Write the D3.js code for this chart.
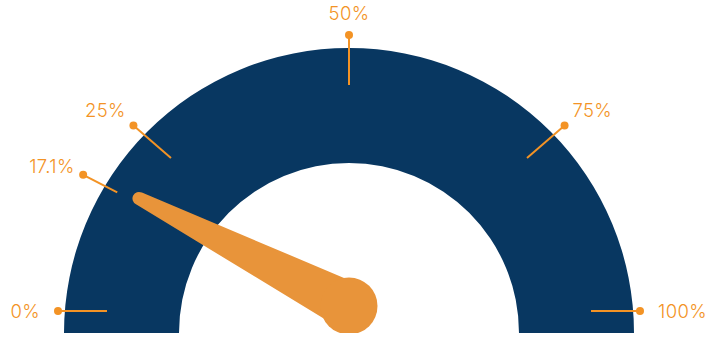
<!DOCTYPE html>
<html>
<head>
<meta charset="utf-8">
<script src="https://cdn.jsdelivr.net/npm/d3@7"></script>
<style>
  html, body { margin: 0; padding: 0; background: #fff; }
  svg { display: block; }
</style>
</head>
<body>
<svg id="chart" width="706" height="337"></svg>
<script>
// Gauge reading and scale ticks
const gaugeValue = 17.1;
const gaugeLabel = "17.1%";
const tickValues = [0, 25, 50, 75, 100];
const tickLabels = ["0%", "25%", "50%", "75%", "100%"];

const W = 706, H = 337;
const cx = 349, cy = 333;          // centre of the navy band
const hubY = cy - 22;              // origin of the ticks
const pivotY = cy - 27;            // needle hub
const band = { inner: 170, outer: 285 };

const navy = "#083761";
const orange = "#f39325";
const needleOrange = "#e8943a";

const svg = d3.select("#chart");

// clip everything at the flat base of the gauge
svg.append("defs").append("clipPath").attr("id", "base")
  .append("rect").attr("x", 0).attr("y", 0).attr("width", W).attr("height", cy);

const g = svg.append("g").attr("clip-path", "url(#base)");

// band: value → d3.arc angle (0 at 12 o'clock, clockwise)
const arcAngle = d3.scaleLinear().domain([0, 100]).range([-Math.PI / 2, Math.PI / 2]);

g.append("path")
  .attr("transform", `translate(${cx},${cy})`)
  .attr("fill", navy)
  .attr("d", d3.arc()
    .innerRadius(band.inner)
    .outerRadius(band.outer)
    .startAngle(arcAngle(0))
    .endAngle(arcAngle(100))());

// value → sweep from the left end (0) to the right end (π)
const sweep = d3.scaleLinear().domain([0, 100]).range([0, Math.PI]);
const squash = 0.86;

// screen angle of a value, measured like Math.atan2 (π = left, 0 = right)
function angleOf(v) {
  const t = sweep(v);
  return Math.atan2(squash * Math.sin(t), -Math.cos(t));
}
function ellipseR(a, b, psi) {
  return a * b / Math.sqrt(Math.pow(b * Math.cos(psi), 2) + Math.pow(a * Math.sin(psi), 2));
}
function polar(v, a, b, extra = 0, oy = hubY) {
  const psi = angleOf(v);
  const r = ellipseR(a, b, psi) + extra;
  return [cx + r * Math.cos(psi), oy - r * Math.sin(psi)];
}

const tickOuter = [291, 276], tickInner = [242, 226], labelRing = [309, 291];
const capHeight = 13;

const tickData = tickValues.map((v, i) => ({ v, label: tickLabels[i], marker: false }));
tickData.push({ v: gaugeValue, label: gaugeLabel, marker: true });

const ticks = svg.append("g");
tickData.forEach(d => {
  const psi = angleOf(d.v);
  const p0 = polar(d.v, ...tickInner, d.marker ? 22 : 0);
  const p1 = polar(d.v, ...tickOuter, d.marker ? 11 : 0);
  const pl = polar(d.v, ...labelRing, d.marker ? 6 : 0);
  ticks.append("line")
    .attr("x1", p0[0]).attr("y1", p0[1])
    .attr("x2", p1[0]).attr("y2", p1[1])
    .attr("stroke", orange).attr("stroke-width", 2);
  ticks.append("circle")
    .attr("cx", p1[0]).attr("cy", p1[1]).attr("r", 4)
    .attr("fill", orange);
  const t = ticks.append("text")
    .attr("text-anchor", "middle")
    .attr("dy", "0.36em")
    .attr("fill", orange)
    .style("font-family", "Inter, sans-serif")
    .style("font-size", "18.5px")
    .style("font-weight", 300)
    .style("letter-spacing", "0.4px")
    .text(d.label);
  // push the label outward so its box sits just beyond the ring point
  const w = t.node().getComputedTextLength();
  t.attr("x", pl[0] + Math.cos(psi) * w / 2)
   .attr("y", pl[1] - Math.sin(psi) * capHeight / 2);
});

// needle: tapered body with rounded tip and a round hub
const needleLen = 236, baseHalf = 24, tipHalf = 6.5, hubR = 28.5;
const psi = angleOf(gaugeValue);
const ux = Math.cos(psi), uy = -Math.sin(psi);   // along the needle
const nx = -uy, ny = ux;                         // across the needle
const tx = cx + ux * needleLen, ty = pivotY + uy * needleLen;

const np = d3.path();
np.moveTo(cx + nx * baseHalf, pivotY + ny * baseHalf);
np.lineTo(tx + nx * tipHalf, ty + ny * tipHalf);
const a0 = Math.atan2(ny, nx);
np.arc(tx, ty, tipHalf, a0, a0 + Math.PI, true);
np.lineTo(cx - nx * baseHalf, pivotY - ny * baseHalf);
np.closePath();

g.append("path").attr("d", np.toString()).attr("fill", needleOrange);
g.append("circle").attr("cx", cx).attr("cy", pivotY).attr("r", hubR).attr("fill", needleOrange);
</script>
</body>
</html>
